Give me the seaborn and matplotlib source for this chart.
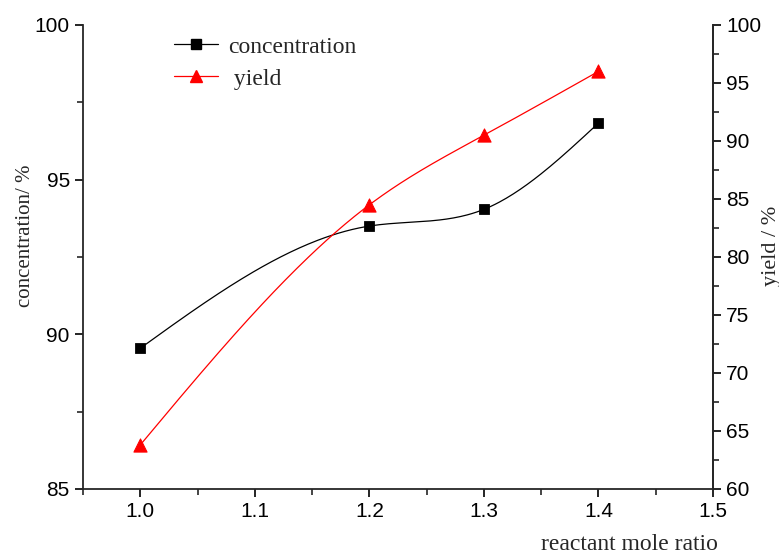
import numpy as np
import pandas as pd
import seaborn as sns
import matplotlib.pyplot as plt
from matplotlib.lines import Line2D
from matplotlib.ticker import MultipleLocator

ratio = [1.0, 1.2, 1.3, 1.4]
concentration = [89.55, 93.5, 94.04, 96.83]
yield_pct = [63.8, 84.5, 90.5, 96.0]


def natural_spline(x, y, n=200):
    # natural cubic spline through the measured points (for the smooth guide line)
    x = np.asarray(x, float)
    y = np.asarray(y, float)
    k = len(x)
    h = np.diff(x)
    A = np.zeros((k, k))
    b = np.zeros(k)
    A[0, 0] = A[-1, -1] = 1
    for i in range(1, k - 1):
        A[i, i - 1] = h[i - 1]
        A[i, i] = 2 * (h[i - 1] + h[i])
        A[i, i + 1] = h[i]
        b[i] = 6 * ((y[i + 1] - y[i]) / h[i] - (y[i] - y[i - 1]) / h[i - 1])
    M = np.linalg.solve(A, b)
    xs = np.linspace(x[0], x[-1], n)
    idx = np.clip(np.searchsorted(x, xs) - 1, 0, k - 2)
    x0, x1 = x[idx], x[idx + 1]
    hh = x1 - x0
    ys = (M[idx] * (x1 - xs) ** 3 / (6 * hh) + M[idx + 1] * (xs - x0) ** 3 / (6 * hh)
          + (y[idx] / hh - M[idx] * hh / 6) * (x1 - xs)
          + (y[idx + 1] / hh - M[idx + 1] * hh / 6) * (xs - x0))
    return xs, ys


sns.set_style('ticks')
plt.rcParams['font.family'] = ['Liberation Sans', 'DejaVu Sans']

fig = plt.figure(figsize=(7.79, 5.58), dpi=100)
ax1 = fig.add_axes([0.1066, 0.1237, 0.8087, 0.8315])
ax2 = ax1.twinx()

df = pd.DataFrame({'ratio': ratio, 'concentration': concentration, 'yield': yield_pct})

xs, cs = natural_spline(ratio, concentration)
sns.lineplot(x=xs, y=cs, ax=ax1, color='black', lw=0.9)
sns.scatterplot(data=df, x='ratio', y='concentration', ax=ax1, marker='s', s=52,
                color='black', edgecolor='black', zorder=5)

xs, ys = natural_spline(ratio, yield_pct)
sns.lineplot(x=xs, y=ys, ax=ax2, color='red', lw=0.9)
sns.scatterplot(data=df, x='ratio', y='yield', ax=ax2, marker='^', s=90,
                color='red', edgecolor='red', zorder=5)

ax1.set_xlim(0.95, 1.5)
ax1.set_ylim(85, 100)
ax2.set_ylim(60, 100)
ax1.xaxis.set_major_locator(MultipleLocator(0.1))
ax1.xaxis.set_minor_locator(MultipleLocator(0.05))
ax1.yaxis.set_major_locator(MultipleLocator(5))
ax1.yaxis.set_minor_locator(MultipleLocator(2.5))
ax2.yaxis.set_major_locator(MultipleLocator(5))
ax2.yaxis.set_minor_locator(MultipleLocator(2.5))
ax1.set_xticks([1.0, 1.1, 1.2, 1.3, 1.4, 1.5])
ax1.set_xticklabels(['1.0', '1.1', '1.2', '1.3', '1.4', '1.5'])

for ax in (ax1, ax2):
    ax.spines['top'].set_visible(False)
    for s in ax.spines.values():
        s.set_linewidth(1.3)
    ax.tick_params(which='major', direction='out', length=6, width=1.2, labelsize=15, colors='black')
    ax.tick_params(which='minor', direction='out', length=4, width=1.2)
ax2.spines['left'].set_visible(False)
ax2.spines['bottom'].set_visible(False)

ax1.set_xlabel('')
ax1.set_ylabel('concentration/ %', family='Liberation Serif', fontsize=15)
ax1.yaxis.set_label_coords(-0.077, 0.545)
ax2.set_ylabel('yield / %', family='Liberation Serif', fontsize=16)
ax2.yaxis.set_label_coords(1.077, 0.525)
fig.text(0.922, 0.005, 'reactant mole ratio', family='Liberation Serif', fontsize=17,
         ha='right', va='bottom')

handles = [
    Line2D([], [], color='black', lw=0.9, marker='s', markersize=7),
    Line2D([], [], color='red', lw=0.9, marker='^', markersize=9),
]
ax1.legend(handles, ['concentration', ' yield'], loc='upper left',
           bbox_to_anchor=(0.11, 1.022), frameon=False, handlelength=1.9, handletextpad=0.4,
           prop={'family': 'Liberation Serif', 'size': 17}, labelspacing=0.45)

plt.savefig('out.png', dpi=100)
